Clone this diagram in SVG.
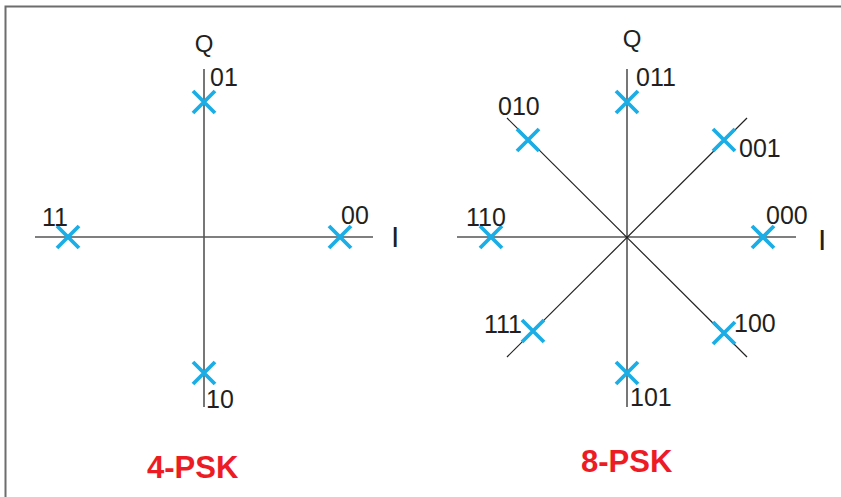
<svg xmlns="http://www.w3.org/2000/svg" width="841" height="497" viewBox="0 0 841 497">
<style>
.frame{stroke:#6d6d6d;stroke-width:2;fill:none}
.axis{stroke:#555;stroke-width:1.6;fill:none}
.diag{stroke:#222;stroke-width:1.2;fill:none}
.pt{stroke:#1aade6;stroke-width:3.8;fill:none}
.lbl{font-family:"Liberation Sans",Arial,sans-serif;font-size:25px;fill:#231f20}
.ax{font-family:"Liberation Sans",Arial,sans-serif;font-size:24px;fill:#231f20}
.axI{font-family:"Liberation Sans",Arial,sans-serif;font-size:30px;fill:#231f20}
.title{font-family:"Liberation Sans",Arial,sans-serif;font-size:31px;font-weight:bold;fill:#ed1c24}
</style>
<defs>
<path id="x" class="pt" d="M-11,-11L11,11M11,-11L-11,11"/>
</defs>
<rect width="841" height="497" fill="#fff"/>
<path class="frame" d="M5.5,497V6.5H841"/>
<g id="connectors">
<line class="axis" x1="204" y1="69" x2="204" y2="407"/>
<line class="axis" x1="35" y1="237" x2="373" y2="237"/>
<line class="axis" x1="627" y1="69" x2="627" y2="407"/>
<line class="axis" x1="457" y1="237" x2="796" y2="237"/>
<line class="diag" x1="507" y1="118" x2="747" y2="357"/>
<line class="diag" x1="747" y1="118" x2="507" y2="357"/>
</g>
<g id="psk4">
<text class="ax" x="204" y="52" text-anchor="middle">Q</text>
<text class="axI" x="391" y="247">I</text>
<g id="p4-01"><use href="#x" x="204" y="102"/><text class="lbl" x="210" y="86">01</text></g>
<g id="p4-11"><use href="#x" x="68" y="237"/><text class="lbl" x="42" y="226">11</text></g>
<g id="p4-00"><use href="#x" x="340" y="237"/><text class="lbl" x="341" y="224">00</text></g>
<g id="p4-10"><use href="#x" x="204" y="373"/><text class="lbl" x="206" y="408">10</text></g>
<text class="title" x="147" y="478">4-PSK</text>
</g>
<g id="psk8">
<text class="ax" x="632" y="47" text-anchor="middle">Q</text>
<text class="axI" x="818" y="250">I</text>
<g id="p8-011"><use href="#x" x="627" y="102"/><text class="lbl" x="636" y="86">011</text></g>
<g id="p8-010"><use href="#x" x="528" y="140"/><text class="lbl" x="498" y="115">010</text></g>
<g id="p8-001"><use href="#x" x="724" y="140"/><text class="lbl" x="739" y="157">001</text></g>
<g id="p8-110"><use href="#x" x="491" y="237"/><text class="lbl" x="466" y="226">110</text></g>
<g id="p8-000"><use href="#x" x="763" y="237"/><text class="lbl" x="766" y="224">000</text></g>
<g id="p8-111"><use href="#x" x="533" y="331"/><text class="lbl" x="484" y="333">111</text></g>
<g id="p8-100"><use href="#x" x="724" y="333"/><text class="lbl" x="734" y="332">100</text></g>
<g id="p8-101"><use href="#x" x="627" y="373"/><text class="lbl" x="630" y="406">101</text></g>
<text class="title" x="581" y="472">8-PSK</text>
</g>
</svg>
